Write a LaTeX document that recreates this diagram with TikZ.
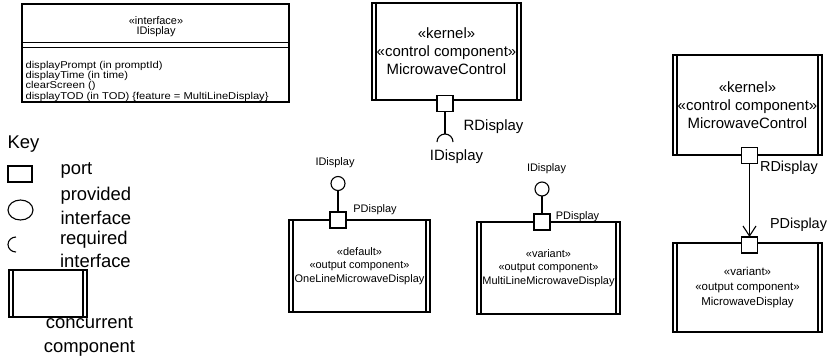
\documentclass[tikz,border=0pt]{standalone}
\usepackage{fontspec}
\setmainfont{Liberation Sans}
\newfontfamily\opsfont[FakeStretch=1.12]{Liberation Sans}
\usetikzlibrary{arrows.meta}
\newcommand\compsides[1]{%
  \draw ([xshift=4bp]#1.north west) -- ([xshift=4bp]#1.south west);
  \draw ([xshift=-4bp]#1.north east) -- ([xshift=-4bp]#1.south east);}
\begin{document}
\begin{tikzpicture}[x=1bp,y=-1bp, line width=1.1bp,
  comp/.style={draw, rectangle, inner sep=0, outer sep=0, align=center},
  portbox/.style={draw, fill=white, rectangle, minimum size=16bp, inner sep=0, outer sep=0},
  provided/.style={draw, circle, minimum size=14bp, inner sep=0, outer sep=0},
  lbl/.style={inner sep=0},
  big/.style={font=\fontsize{15}{18}\selectfont},
  small/.style={font=\fontsize{11}{13.5}\selectfont},
  keyfont/.style={font=\fontsize{18.5}{23.5}\selectfont},
]
\useasboundingbox (0,0) rectangle (831,362);

% interface class box
\node[draw, inner sep=0, outer sep=0, minimum width=267bp, minimum height=98bp] (iface) at (155.5,53) {};
\coordinate (d1) at (0,42.7);
\coordinate (d2) at (0,47.3);
\draw (iface.west |- d1) -- (iface.east |- d1);
\draw (iface.west |- d2) -- (iface.east |- d2);
\node[lbl, align=center, font=\fontsize{11}{10}\selectfont] (ifhead) at (156,26.5) {«interface»\\IDisplay};
\node[lbl, align=left, anchor=north west, font=\opsfont\fontsize{10}{8}\selectfont] (ifops) at (25,60.5)
  {displayPrompt (in promptId)\\displayTime (in time)\\clearScreen ()\\displayTOD (in TOD) \{feature = MultiLineDisplay\}};

% key
\node[lbl, keyfont] (keyt) at (23.5,144) {Key};
\draw (8,166) rectangle (32,182);
\node[lbl, keyfont, anchor=west] (kport) at (60,170) {port};
\draw (20.5,210) ellipse [x radius=12.5, y radius=10];
\node[lbl, keyfont, anchor=west, align=left] (kprov) at (60,206) {provided\\interface};
\draw (16,237) arc[start angle=270, end angle=90, x radius=8, y radius=7.5];
\node[lbl, keyfont, anchor=west, align=left] (kreq) at (59.5,249.5) {required\\interface};
\node[comp, minimum width=78bp, minimum height=47bp] (kcomp) at (48,293.5) {};
\compsides{kcomp}
\node[lbl, keyfont, align=center] (kcompt) at (89.5,336.5) {concurrent\\component};

% left MicrowaveControl with required interface
\node[comp, big, minimum width=149bp, minimum height=97bp] (mc1) at (446.5,51.5) {«kernel»\\«control component»\\MicrowaveControl};
\compsides{mc1}
\node[portbox] (p1) at (445,103.5) {};
\coordinate (rq) at (445,134);
\draw (p1.south) -- (rq);
\draw (rq) ++(-8,8) arc[start angle=180, end angle=360, radius=8];
\node[lbl, big] (rd1) at (493.5,127) {RDisplay};
\node[lbl, big] (id1) at (456.5,157) {IDisplay};

% OneLineMicrowaveDisplay
\node[comp, small, minimum width=141bp, minimum height=92bp] (ol) at (359.5,266) {«default»\\«output component»\\OneLineMicrowaveDisplay};
\compsides{ol}
\node[portbox] (p2) at (338,220) {};
\node[provided] (c2) at (338,183.5) {};
\draw (p2.north) -- (c2.south);
\node[lbl, small] (id2) at (335,163) {IDisplay};
\node[lbl, small] (pd2) at (375,210) {PDisplay};

% MultiLineMicrowaveDisplay
\node[comp, small, minimum width=143bp, minimum height=92bp] (ml) at (548.5,268) {«variant»\\«output component»\\MultiLineMicrowaveDisplay};
\compsides{ml}
\node[portbox] (p3) at (542,222) {};
\node[provided] (c3) at (542,189) {};
\draw (p3.north) -- (c3.south);
\node[lbl, small] (id3) at (546.5,169) {IDisplay};
\node[lbl, small] (pd3) at (577.5,217) {PDisplay};

% right: MicrowaveControl -> MicrowaveDisplay
\node[comp, big, minimum width=149bp, minimum height=100bp] (mc2) at (747.5,105) {«kernel»\\«control component»\\MicrowaveControl};
\compsides{mc2}
\node[portbox] (p4) at (749.5,155.5) {};
\node[comp, font=\fontsize{11.5}{15}\selectfont, minimum width=149bp, minimum height=89bp] (md) at (747.5,287.5) {«variant»\\«output component»\\MicrowaveDisplay};
\compsides{md}
\node[portbox] (p5) at (749.5,245) {};
\draw[-{Straight Barb[length=10bp,width=13bp]}] (p4.south) -- (p5.north);
\node[lbl, font=\fontsize{14.5}{17}\selectfont] (rd4) at (789,168) {RDisplay};
\node[lbl, font=\fontsize{14.5}{17}\selectfont] (pd5) at (798.5,225) {PDisplay};
\end{tikzpicture}
\end{document}
